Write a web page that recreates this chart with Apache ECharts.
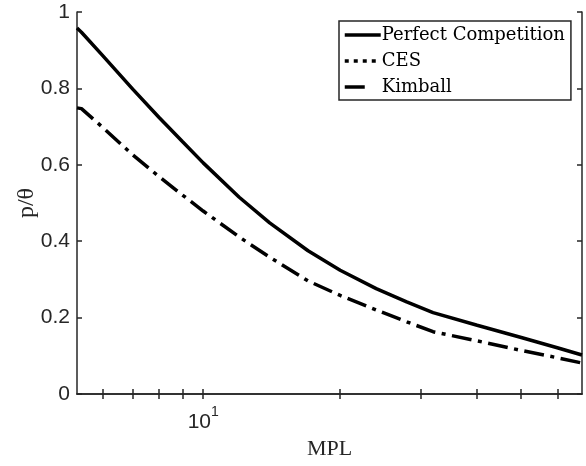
<!DOCTYPE html>
<html>
<head>
<meta charset="utf-8">
<script src="https://cdn.jsdelivr.net/npm/echarts@6/dist/echarts.min.js"></script>
<style>
    html, body { margin: 0; padding: 0; background: #fff; }
    #main { width: 586px; height: 466px; }
</style>
</head>
<body>
<div id="main"></div>
<script>
// values
var mpl = [5.28, 5.4, 6, 7, 8, 9, 10, 12, 14, 17, 20, 24, 28, 32, 40, 50, 60, 68];
var perfectComp = [0.958, 0.947, 0.887, 0.798, 0.724, 0.661, 0.605, 0.515, 0.448, 0.375, 0.324, 0.276, 0.241, 0.213, 0.18, 0.148, 0.121, 0.102];
var ces = [0.749, 0.747, 0.699, 0.626, 0.569, 0.521, 0.479, 0.411, 0.358, 0.296, 0.258, 0.22, 0.189, 0.163, 0.139, 0.114, 0.095, 0.081];
var kimball = [0.749, 0.747, 0.699, 0.626, 0.569, 0.521, 0.479, 0.411, 0.358, 0.296, 0.258, 0.22, 0.189, 0.163, 0.139, 0.114, 0.095, 0.081];
var xTicks = [6, 7, 8, 9, 10, 20, 30, 40, 50, 60];
var xLabels = [10];

function pairs(ys) {
    return mpl.map(function (x, i) { return [x, ys[i]]; });
}

var axisColor = '#262626';
var myChart = echarts.init(document.getElementById('main'));

var option = {
    animation: false,
    grid: { left: 77, top: 12, right: 4, bottom: 72 },
    legend: {
        orient: 'vertical',
        left: 339,
        top: 21,
        padding: [5, 6, 4, 4],
        itemGap: 8,
        itemWidth: 36,
        itemHeight: 17,
        borderColor: '#262626',
        borderWidth: 1.5,
        backgroundColor: '#fff',
        itemStyle: { opacity: 0 },
        lineStyle: { width: 3.5 },
        textStyle: { fontFamily: 'DejaVu Serif', fontSize: 18, color: '#000', padding: [0, 0, 0, -4] },
        data: [
            { name: 'Perfect Competition' },
            { name: 'CES', lineStyle: { type: [4, 5], dashOffset: 0 } },
            { name: 'Kimball' }
        ]
    },
    xAxis: [{
        type: 'log',
        min: 5.28,
        max: 68,
        name: 'MPL',
        nameLocation: 'middle',
        nameGap: 44,
        nameMoveOverlap: false,
        nameTextStyle: { fontFamily: 'Liberation Serif', fontSize: 22, color: '#262626' },
        axisLine: { lineStyle: { color: axisColor, width: 1.5 } },
        axisTick: { inside: true, length: 5, customValues: xTicks, lineStyle: { color: axisColor, width: 1.5 } },
        axisLabel: {
            customValues: xLabels,
            margin: 11,
            formatter: function () { return '{b|10}{s|1}'; },
            rich: {
                b: { fontFamily: 'Liberation Sans', fontSize: 21, color: '#262626', verticalAlign: 'bottom', lineHeight: 28 },
                s: { fontFamily: 'Liberation Sans', fontSize: 14, color: '#262626', verticalAlign: 'top', lineHeight: 14 }
            }
        },
        splitLine: { show: false },
        minorTick: { show: false }
    }, {
        type: 'log',
        position: 'top',
        min: 5.28,
        max: 68,
        axisLine: { lineStyle: { color: axisColor, width: 1.5 } },
        axisTick: { inside: true, length: 5, customValues: xTicks, lineStyle: { color: axisColor, width: 1.5 } },
        axisLabel: { show: false },
        splitLine: { show: false }
    }],
    yAxis: [{
        type: 'value',
        min: 0,
        max: 1,
        interval: 0.2,
        name: 'p/θ',
        nameLocation: 'middle',
        nameGap: 38,
        nameMoveOverlap: false,
        nameTextStyle: { fontFamily: 'Liberation Serif', fontSize: 24, color: '#262626' },
        axisLine: { show: true, lineStyle: { color: axisColor, width: 1.5 } },
        axisTick: { show: true, inside: true, length: 5, lineStyle: { color: axisColor, width: 1.5 } },
        axisLabel: { fontFamily: 'Liberation Sans', fontSize: 21, color: '#262626', margin: 7 },
        splitLine: { show: false }
    }, {
        type: 'value',
        position: 'right',
        min: 0,
        max: 1,
        interval: 0.2,
        axisLine: { show: true, lineStyle: { color: axisColor, width: 1.5 } },
        axisTick: { show: true, inside: true, length: 5, lineStyle: { color: axisColor, width: 1.5 } },
        axisLabel: { show: false },
        splitLine: { show: false }
    }],
    series: [{
        name: 'Perfect Competition',
        type: 'line',
        symbol: 'none',
        data: pairs(perfectComp),
        lineStyle: { color: '#000', width: 3.5, type: 'solid' },
        itemStyle: { color: '#000' }
    }, {
        name: 'Kimball',
        type: 'line',
        symbol: 'none',
        data: pairs(kimball),
        lineStyle: { color: '#000', width: 3.5, type: [20, 17], cap: 'butt' },
        itemStyle: { color: '#000' }
    }, {
        name: 'CES',
        type: 'line',
        symbol: 'none',
        data: pairs(ces),
        lineStyle: { color: '#000', width: 3.5, type: [4, 33], dashOffset: 10.5, cap: 'butt' },
        itemStyle: { color: '#000' }
    }]
};

myChart.setOption(option);
</script>
</body>
</html>
